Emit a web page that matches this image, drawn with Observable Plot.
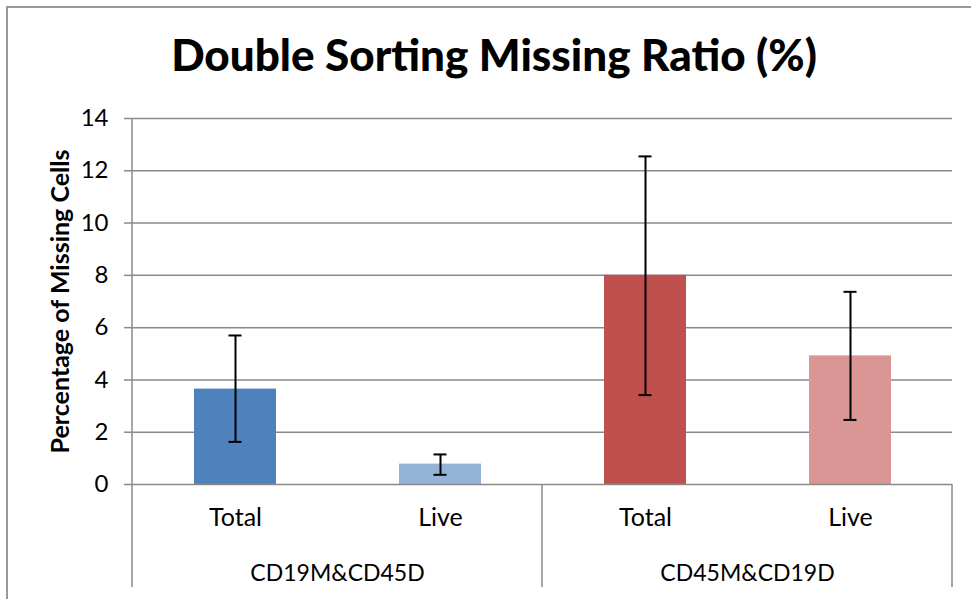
<!DOCTYPE html>
<html>
<head>
<meta charset="utf-8">
<script src="https://cdn.jsdelivr.net/npm/d3@7"></script>
<script src="https://cdn.jsdelivr.net/npm/@observablehq/plot@0.6"></script>
<style>
  html, body { margin: 0; padding: 0; background: #fff; overflow: hidden; width: 971px; height: 599px; }
  #frame { position: absolute; left: 6px; top: 6px; width: 1200px; height: 1200px; border-left: 2px solid #9a9a9a; border-top: 2px solid #9a9a9a; box-sizing: border-box; }
  #title { position: absolute; left: 6px; width: 976px; top: 32px; line-height: 44px; text-align: center; font-family: Lato, sans-serif; font-weight: 900; font-size: 44px; color: #000; white-space: nowrap; }
  #chart { position: absolute; left: 0; top: 100px; }
</style>
</head>
<body>
<div id="frame"></div>
<div id="title">Double Sorting Missing Ratio (%)</div>
<div id="chart"></div>
<script>
const groups = ["CD19M&CD45D", "CD19M&CD45D", "CD45M&CD19D", "CD45M&CD19D"];
const subs = ["Total", "Live", "Total", "Live"];
const values = [3.65, 0.78, 8.0, 4.92];
const errLow = [1.63, 0.37, 3.42, 2.47];
const errHigh = [5.70, 1.15, 12.55, 7.37];
const colors = ["#4F81BD", "#95B3D7", "#C0504D", "#D99694"];
const groupNames = ["CD19M&CD45D", "CD45M&CD19D"];
const subNames = ["Total", "Live"];
const yTicks = [0, 2, 4, 6, 8, 10, 12, 14];
const yLabel = "Percentage of Missing Cells";

const data = groups.map((g, i) => ({group: g, sub: subs[i], value: values[i], lo: errLow[i], hi: errHigh[i], color: colors[i]}));

const font = "Lato, sans-serif";
const plot = Plot.plot({
  width: 971,
  height: 499,
  marginLeft: 132,
  marginRight: 19,
  marginTop: 18,
  marginBottom: 115,
  style: {fontFamily: font, fontSize: "24px", color: "#000", background: "transparent", overflow: "visible"},
  fx: {domain: groupNames, padding: 0, axis: null},
  x: {domain: subNames, paddingInner: 0.6, paddingOuter: 0.3, axis: null},
  y: {domain: [0, 14], axis: null},
  color: {type: "identity"},
  marks: [
    Plot.ruleY(yTicks.filter(d => d > 0), {stroke: "#8a8a8a", strokeWidth: 1.5}),
    Plot.barY(data, {fx: "group", x: "sub", y: "value", fill: "color"}),
    Plot.ruleY([0], {stroke: "#8a8a8a", strokeWidth: 1.5}),
    Plot.ruleX(data, {fx: "group", x: "sub", y1: "lo", y2: "hi", stroke: "#000", strokeWidth: 2}),
    Plot.tickY(data, {fx: "group", x: "sub", y: "lo", stroke: "#000", strokeWidth: 2, insetLeft: 34.5, insetRight: 34.5}),
    Plot.tickY(data, {fx: "group", x: "sub", y: "hi", stroke: "#000", strokeWidth: 2, insetLeft: 34.5, insetRight: 34.5}),
    Plot.axisY({ticks: yTicks, tickSize: 8, tickPadding: 16, tickFormat: d => String(d), stroke: "#8a8a8a", strokeWidth: 1.5, fontSize: 24, fill: "#000", label: null}),
    Plot.text(data, {fx: "group", x: "sub", text: "sub", frameAnchor: "bottom", dy: 41, fontSize: 25, fill: "#000"}),
    Plot.text(groupNames, {fx: d => d, text: d => d, frameAnchor: "bottom", dy: 96, fontSize: 23, fill: "#000"}),
    Plot.text([yLabel], {fx: () => groupNames[0], text: d => d, frameAnchor: "left", rotate: -90, dx: -72, textAnchor: "middle", fontWeight: "bold", fontSize: 25, fill: "#000"})
  ]
});
document.getElementById("chart").appendChild(plot);

// axis line and category separators, positioned from the plot's own scales
const fx = plot.scale("fx");
const y = plot.scale("y");
const svg = d3.select(plot);
const y0 = y.apply(0), yTop = y.apply(14), yEnd = y0 + 103;
const xs = [fx.apply(groupNames[0]), fx.apply(groupNames[1]), fx.apply(groupNames[1]) + fx.bandwidth];
const g = svg.append("g").attr("stroke", "#8a8a8a").attr("stroke-width", 1.5);
g.append("line").attr("x1", xs[0]).attr("x2", xs[0]).attr("y1", yTop).attr("y2", yEnd);
g.append("line").attr("x1", xs[1]).attr("x2", xs[1]).attr("y1", y0).attr("y2", yEnd);
g.append("line").attr("x1", xs[2]).attr("x2", xs[2]).attr("y1", y0).attr("y2", yEnd);
</script>
</body>
</html>
